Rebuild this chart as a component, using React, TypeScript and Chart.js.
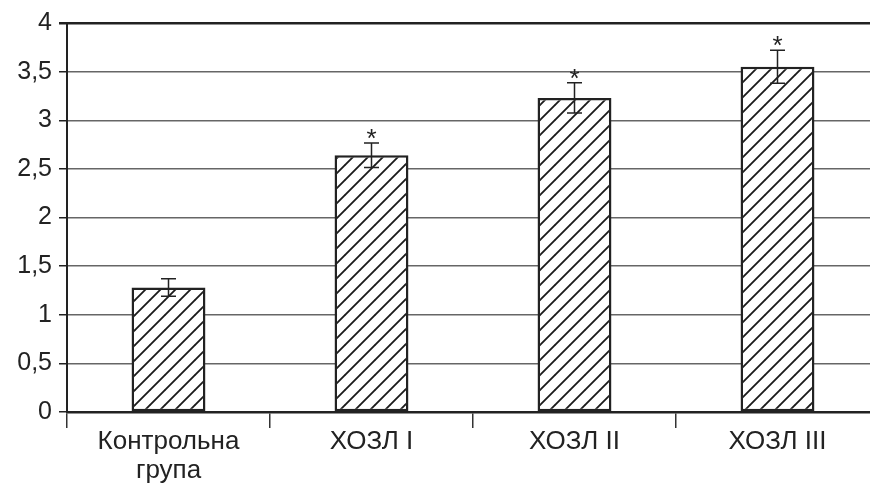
import React, { useEffect, useRef } from 'react';
import { Chart, registerables } from 'chart.js';

Chart.register(...registerables);

const categories: (string | string[])[] = [['Контрольна', 'група'], 'ХОЗЛ I', 'ХОЗЛ II', 'ХОЗЛ III'];
const values = [1.28, 2.64, 3.23, 3.55];
const errors = [0.09, 0.125, 0.155, 0.17];
const marks = ['', '*', '*', '*'];
const yMin = 0;
const yMax = 4;
const yStep = 0.5;

const FONT = '"Liberation Sans", Arial, sans-serif';

function makeHatch(): CanvasPattern | string {
  const s = 15;
  const c = document.createElement('canvas');
  c.width = s;
  c.height = s;
  const g = c.getContext('2d');
  if (!g) return '#fff';
  g.fillStyle = '#ffffff';
  g.fillRect(0, 0, s, s);
  g.strokeStyle = '#1a1a1a';
  g.lineWidth = 1.8;
  g.lineCap = 'square';
  g.beginPath();
  for (let k = -1; k <= 1; k++) {
    g.moveTo(k * s, s);
    g.lineTo(k * s + s, 0);
  }
  g.stroke();
  const p = g.createPattern(c, 'repeat');
  return p || '#fff';
}

const errorPlugin = {
  id: 'errorBars',
  afterDatasetsDraw(chart: any) {
    const ctx = chart.ctx;
    const meta = chart.getDatasetMeta(0);
    const y = chart.scales.y;
    meta.data.forEach((bar: any, i: number) => {
      const x = bar.x;
      const top = y.getPixelForValue(values[i] + errors[i]);
      const bot = y.getPixelForValue(values[i] - errors[i]);
      ctx.save();
      ctx.strokeStyle = '#222';
      ctx.lineWidth = 1.5;
      ctx.beginPath();
      ctx.moveTo(x, top);
      ctx.lineTo(x, bot);
      ctx.moveTo(x - 7.5, top);
      ctx.lineTo(x + 7.5, top);
      ctx.moveTo(x - 7.5, bot);
      ctx.lineTo(x + 7.5, bot);
      ctx.stroke();
      if (marks[i]) {
        ctx.fillStyle = '#222';
        ctx.font = `26px ${FONT}`;
        ctx.textAlign = 'center';
        ctx.textBaseline = 'alphabetic';
        ctx.fillText(marks[i], x, top + 4);
      }
      ctx.restore();
    });
  },
};

export default function App() {
  const ref = useRef<HTMLCanvasElement | null>(null);

  useEffect(() => {
    if (!ref.current) return;
    const hatch = makeHatch();
    const chart = new Chart(ref.current, {
      type: 'bar',
      data: {
        labels: categories,
        datasets: [
          {
            data: values,
            backgroundColor: hatch as any,
            borderColor: '#222',
            borderWidth: 2.5,
            borderSkipped: false,
            categoryPercentage: 1,
            barPercentage: 0.364,
          },
        ],
      },
      options: {
        responsive: false,
        animation: false,
        devicePixelRatio: 1,
        layout: { padding: { top: 23, right: 1, left: 0, bottom: 0 } },
        plugins: {
          legend: { display: false },
          tooltip: { enabled: false },
          title: { display: false },
        },
        scales: {
          x: {
            grid: {
              display: true,
              drawOnChartArea: false,
              drawTicks: true,
              tickLength: 16,
              tickColor: '#333',
              lineWidth: 1.5,
              offset: true,
            },
            border: { display: true, color: '#222', width: 2.5 },
            ticks: {
              color: '#222',
              font: { family: FONT, size: 26, lineHeight: 1.1 },
              padding: 0,
              maxRotation: 0,
              autoSkip: false,
            },
            afterFit(scale: any) {
              scale.height = 71;
            },
          },
          y: {
            min: yMin,
            max: yMax,
            grid: {
              color: (c: any) => (c.tick && c.tick.value === yMax ? '#222' : '#666'),
              lineWidth: (c: any) => (c.tick && c.tick.value === yMax ? 2.5 : 1.5),
              tickLength: 8,
              tickColor: '#222',
              drawTicks: true,
            },
            border: { display: true, color: '#222', width: 2 },
            ticks: {
              stepSize: yStep,
              color: '#222',
              font: { family: FONT, size: 25 },
              padding: 7,
              callback: (v: any) => String(v).replace('.', ','),
            },
            afterFit(scale: any) {
              scale.width = 67;
            },
          },
        },
      },
      plugins: [errorPlugin],
    });
    return () => chart.destroy();
  }, []);

  return (
    <div
      style={{
        position: 'absolute',
        left: 0,
        top: 0,
        width: 870,
        height: 483,
        overflow: 'hidden',
        background: '#fff',
      }}
    >
      <canvas ref={ref} width={880} height={483} style={{ display: 'block' }} />
    </div>
  );
}
